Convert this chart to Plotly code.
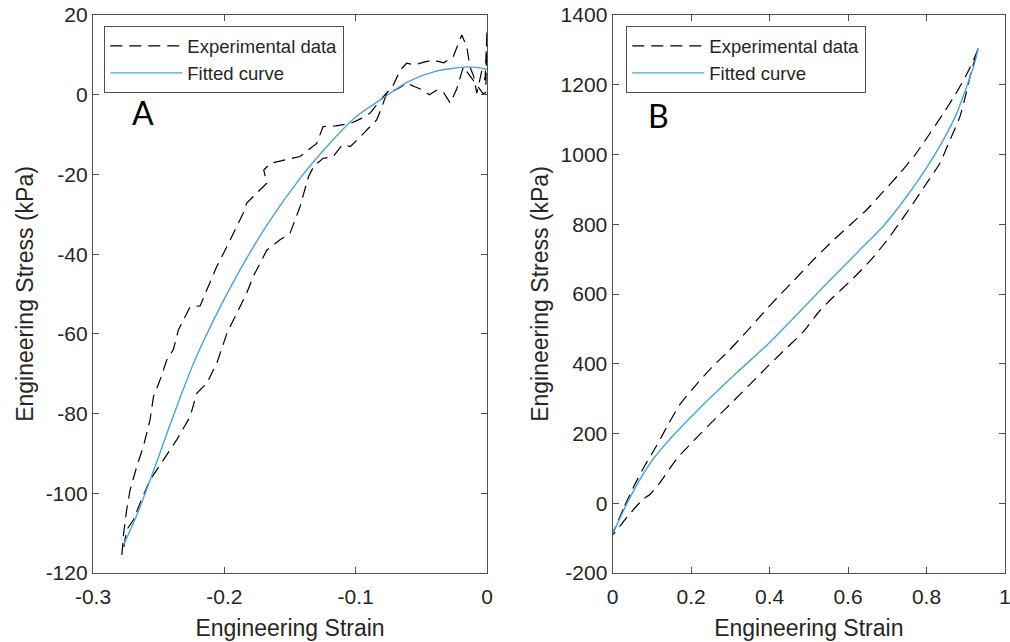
import plotly.graph_objects as go

# ---------------- Panel A data ----------------
a_exp_strain = [-0.278, -0.277, -0.2744, -0.2718, -0.2667, -0.2617, -0.2566, -0.254, -0.249, -0.2439,
                -0.2388, -0.235, -0.226, -0.2185, -0.2134, -0.2058, -0.198, -0.193, -0.1856, -0.183,
                -0.1753, -0.1677, -0.170, -0.165, -0.1424, -0.135, -0.1297, -0.1248, -0.115, -0.104,
                -0.096, -0.089, -0.083, -0.079, -0.072, -0.066, -0.0612, -0.055, -0.048, -0.041,
                -0.033, -0.0258, -0.0192, -0.0154, -0.0130, -0.0100, -0.0078, -0.0040, -0.0015, 0.0,
                -0.001, -0.003, -0.0107, -0.018, -0.023, -0.028, -0.033, -0.038, -0.044, -0.049,
                -0.055, -0.061, -0.068, -0.0764, -0.080, -0.084, -0.094, -0.104, -0.110, -0.117,
                -0.125, -0.132, -0.136, -0.1424, -0.150, -0.1576, -0.1677, -0.178, -0.183, -0.1906,
                -0.198, -0.2058, -0.2134, -0.221, -0.2261, -0.2363, -0.2465, -0.2566, -0.2642, -0.2693,
                -0.2744, -0.2769]
a_exp_stress = [-115.5, -110.9, -104.2, -99.2, -93.3, -88.3, -81.6, -75.8, -71.6, -66.6,
                -63.9, -59.0, -53.2, -53.0, -49.0, -43.1, -38.1, -34.8, -29.7, -27.2,
                -24.7, -22.2, -18.9, -17.2, -15.5, -13.5, -12.2, -8.0, -7.8, -7.2,
                -6.0, -4.6, -2.0, -0.5, 2.0, 6.2, 7.9, 7.5, 8.2, 8.7,
                8.0, 9.5, 15.0, 12.0, 7.0, 4.5, 0.4, 6.0, 3.7, 16.2,
                0.5, 0.3, 3.7, 7.0, 1.5, -2.1, 0.5, 1.2, 0.0, 1.2,
                2.0, 2.9, 1.5, 0.3, -3.0, -6.3, -9.7, -13.0, -12.5, -15.5,
                -16.0, -18.0, -20.6, -28.1, -34.8, -36.4, -39.0, -45.6, -49.8, -54.8,
                -59.8, -67.4, -72.4, -74.9, -80.8, -86.6, -91.6, -96.7, -102.5, -106.7,
                -109.2, -114.2]

a_fit_strain = [-0.2769, -0.2667, -0.2541, -0.2389, -0.221, -0.1932, -0.1677, -0.1424, -0.12, -0.10,
                -0.079, -0.06, -0.04, -0.0145, 0.0]
a_fit_stress = [-113.0, -105.5, -94.5, -80.6, -65.5, -47.0, -32.8, -21.0, -12.3, -5.6,
                -0.8, 3.3, 5.8, 7.0, 6.4]

# ---------------- Panel B data ----------------
# loading branch (upper) then unloading branch (lower)
b_exp_strain = [0.0, 0.031, 0.057, 0.082, 0.112, 0.142, 0.172, 0.210, 0.252, 0.295,
                0.342, 0.384, 0.4265, 0.460, 0.503, 0.554, 0.605, 0.647, 0.686, 0.728,
                0.771, 0.809, 0.843, 0.873, 0.899, 0.920, 0.932,
                0.915, 0.902, 0.885, 0.860, 0.834, 0.800, 0.766, 0.732, 0.698, 0.656,
                0.613, 0.563, 0.528, 0.486, 0.435, 0.392, 0.350, 0.308, 0.265, 0.206,
                0.163, 0.121, 0.095, 0.078, 0.040, 0.0]
b_exp_stress = [-90, -7, 55, 108, 165, 227, 284, 336, 389, 436,
                493, 546, 598, 636, 688, 745, 798, 841, 889, 941,
                999, 1061, 1118, 1171, 1223, 1271, 1304,
                1242, 1180, 1108, 1042, 975, 917, 860, 805, 752, 695,
                645, 592, 552, 492, 436, 389, 341, 293, 246, 179,
                127, 60, 25, 12, -35, -90]

b_fit_strain = [0.0, 0.044, 0.095, 0.146, 0.223, 0.316, 0.401, 0.503, 0.537, 0.622,
                0.690, 0.749, 0.800, 0.843, 0.877, 0.902, 0.920, 0.932]
b_fit_stress = [-88, 16, 114, 184, 274, 374, 462, 580, 620, 717,
                795, 879, 962, 1042, 1118, 1194, 1252, 1304]

# ---------------- Ticks ----------------
a_xticks = [-0.3, -0.2, -0.1, 0]
a_xticklabels = ["-0.3", "-0.2", "-0.1", "0"]
a_yticks = [-120, -100, -80, -60, -40, -20, 0, 20]
a_yticklabels = ["-120", "-100", "-80", "-60", "-40", "-20", "0", "20"]
b_xticks = [0, 0.2, 0.4, 0.6, 0.8, 1]
b_xticklabels = ["0", "0.2", "0.4", "0.6", "0.8", "1"]
b_yticks = [-200, 0, 200, 400, 600, 800, 1000, 1200, 1400]
b_yticklabels = ["-200", "0", "200", "400", "600", "800", "1000", "1200", "1400"]

series_names = ["Experimental data", "Fitted curve"]
panel_labels = ["A", "B"]

FONT = "Liberation Sans, Arial, sans-serif"
TXT = "#262626"
AXC = "#505050"
BLUE = "#4aa3df"
DASH = "12px,7px"

fig = go.Figure()
fig.add_trace(go.Scatter(x=a_exp_strain, y=a_exp_stress, mode="lines", name=series_names[0],
                         line=dict(color="black", width=1.2, dash=DASH),
                         xaxis="x", yaxis="y", legend="legend"))
fig.add_trace(go.Scatter(x=a_fit_strain, y=a_fit_stress, mode="lines", name=series_names[1],
                         line=dict(color=BLUE, width=1.4, shape="spline", smoothing=0.8),
                         xaxis="x", yaxis="y", legend="legend"))
fig.add_trace(go.Scatter(x=b_exp_strain, y=b_exp_stress, mode="lines", name=series_names[0],
                         line=dict(color="black", width=1.2, dash=DASH, shape="spline", smoothing=0.6),
                         xaxis="x2", yaxis="y2", legend="legend2"))
fig.add_trace(go.Scatter(x=b_fit_strain, y=b_fit_stress, mode="lines", name=series_names[1],
                         line=dict(color=BLUE, width=1.4, shape="spline", smoothing=0.8),
                         xaxis="x2", yaxis="y2", legend="legend2"))

ax_common = dict(showline=True, linecolor=AXC, linewidth=1.3, mirror="ticks",
                 ticks="inside", ticklen=6, tickcolor=AXC, tickwidth=1.2,
                 showgrid=False, zeroline=False, automargin=False,
                 tickfont=dict(family=FONT, size=21, color=TXT),
                 title_font=dict(family=FONT, size=23, color=TXT))

ydom = [0.1075, 0.9766]
legend_common = dict(xanchor="left", yanchor="top", bgcolor="white", bordercolor=AXC,
                     borderwidth=1.3, font=dict(family=FONT, size=18.5, color=TXT),
                     itemwidth=72, tracegroupgap=0)
fig.update_layout(
    width=1010, height=642,
    margin=dict(l=0, r=0, t=0, b=0),
    paper_bgcolor="white", plot_bgcolor="white",
    font=dict(family=FONT, color=TXT),
    xaxis=dict(domain=[0.0921, 0.4822], range=[-0.3, 0], tickvals=a_xticks, ticktext=a_xticklabels,
               title=dict(text="Engineering Strain", standoff=12), anchor="y",
               ticklabelstandoff=5, ticklabeloverflow="allow", **ax_common),
    yaxis=dict(domain=ydom, range=[-120, 20], tickvals=a_yticks, ticktext=a_yticklabels,
               title=dict(text="Engineering Stress (kPa)", standoff=5), anchor="x", **ax_common),
    xaxis2=dict(domain=[0.6066, 0.9950], range=[0, 1], tickvals=b_xticks, ticktext=b_xticklabels,
                title=dict(text="Engineering Strain", standoff=12), anchor="y2",
                ticklabelstandoff=5, ticklabeloverflow="allow", **ax_common),
    yaxis2=dict(domain=ydom, range=[-200, 1400], tickvals=b_yticks, ticktext=b_yticklabels,
                title=dict(text="Engineering Stress (kPa)", standoff=5), anchor="x2", **ax_common),
    legend=dict(x=104 / 1010, y=1 - 26 / 642, **legend_common),
    legend2=dict(x=626 / 1010, y=1 - 26 / 642, **legend_common),
    showlegend=True,
    annotations=[
        dict(text=panel_labels[0], x=-0.262, y=-4.5, xref="x", yref="y", showarrow=False,
             font=dict(family="Lato, sans-serif", size=32, color="black")),
        dict(text=panel_labels[1], x=0.118, y=1113, xref="x2", yref="y2", showarrow=False,
             font=dict(family="Lato, sans-serif", size=32, color="black")),
    ],
)

fig.write_html("out.html")
